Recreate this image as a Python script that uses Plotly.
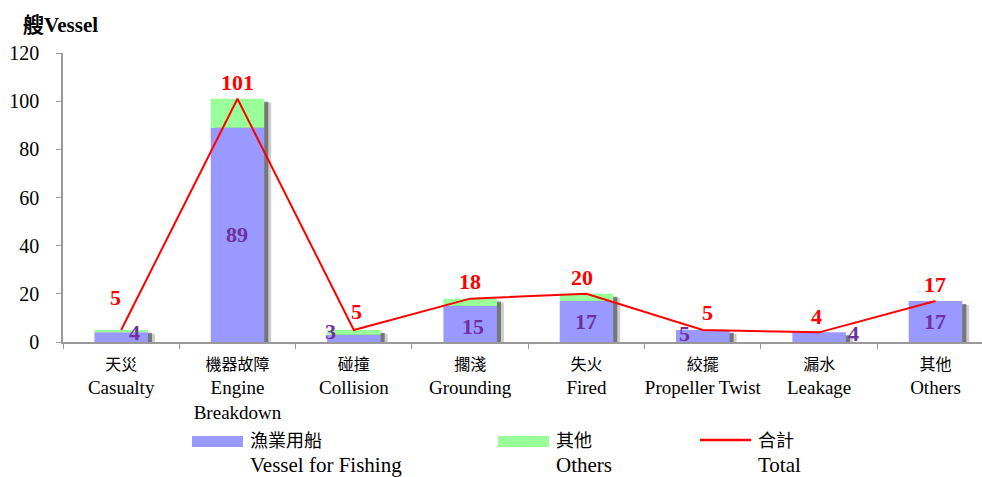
import plotly.graph_objects as go

categories_zh = ["天災", "機器故障", "碰撞", "擱淺", "失火", "絞擺", "漏水", "其他"]
categories_en = ["Casualty", "Engine<br>Breakdown", "Collision", "Grounding", "Fired",
                 "Propeller Twist", "Leakage", "Others"]
fishing = [4, 89, 3, 15, 17, 5, 4, 17]
others = [1, 12, 2, 3, 3, 0, 0, 0]
total = [5, 101, 5, 18, 20, 5, 4, 17]

# label nudges (pixels) - style only
fish_xshift = [13, 0, -23, 3, 0, -18, 34, 0]
fish_yshift = [5, 0, 7, -3, 0, 2, 4, 0]
tot_xshift = [-6, 0, 3, 0, -4, 5, -3, 0]
tot_yshift = [32, 16, 18, 17, 16, 17, 16, 17]

cats = [f"<span style='font-size:16px'>{z}</span><br>{e}" for z, e in zip(categories_zh, categories_en)]

W, H = 982, 477
L, R, T, B = 63, 0, 53, 135
pw, ph = W - L - R, H - T - B

def px(x):
    return (x - L) / pw

def py(y):
    return (H - B - y) / ph

SERIF = "Liberation Serif, Times New Roman, Noto Sans CJK TC"
BW = 0.46

fig = go.Figure()
# soft shadows
fig.add_trace(go.Bar(x=cats, y=[t - 1.6 for t in total], base=0, offset=-BW / 2 + 0.06, width=BW,
                     marker=dict(color="rgba(90,90,90,0.3)", line=dict(width=0)),
                     showlegend=False, hoverinfo="skip"))
fig.add_trace(go.Bar(x=cats, y=[t - 1.2 for t in total], base=0, offset=-BW / 2 + 0.035, width=BW,
                     marker=dict(color="rgba(60,60,60,0.6)", line=dict(width=0)),
                     showlegend=False, hoverinfo="skip"))
fig.add_trace(go.Bar(x=cats, y=fishing, base=0, offset=-BW / 2, width=BW, name="漁業用船",
                     marker=dict(color="#9999FF", line=dict(width=0)), showlegend=False))
fig.add_trace(go.Bar(x=cats, y=others, base=fishing, offset=-BW / 2, width=BW, name="其他",
                     marker=dict(color="#99FF99", line=dict(width=0)), showlegend=False))
fig.add_trace(go.Scatter(x=cats, y=total, mode="lines", name="合計",
                         line=dict(color="#FF0000", width=2), showlegend=False))

ann = []
for c, f, xs, ys in zip(cats, fishing, fish_xshift, fish_yshift):
    ann.append(dict(x=c, y=f / 2, xref="x", yref="y", text=f"<b>{f}</b>", showarrow=False,
                    xshift=xs, yshift=ys, font=dict(family=SERIF, size=22, color="#7030A0")))
for c, t, xs, ys in zip(cats, total, tot_xshift, tot_yshift):
    ann.append(dict(x=c, y=t, xref="x", yref="y", text=f"<b>{t}</b>", showarrow=False,
                    xshift=xs, yshift=ys, font=dict(family=SERIF, size=22, color="#FF0000")))

# y-axis title
ann.append(dict(x=px(21), y=py(25), xref="paper", yref="paper", xanchor="left", yanchor="middle",
                text="<b>艘Vessel</b>", showarrow=False,
                font=dict(family=SERIF, size=21, color="#000000")))

# manual legend
shapes = []
legend_items = [
    ("rect", "#9999FF", 192, "漁業用船", "Vessel for Fishing"),
    ("rect", "#99FF99", 498, "其他", "Others"),
    ("line", "#FF0000", 700, "合計", "Total"),
]
for kind, col, x0, zh, en in legend_items:
    if kind == "rect":
        shapes.append(dict(type="rect", xref="paper", yref="paper", x0=px(x0), x1=px(x0 + 51),
                           y0=py(447), y1=py(436), fillcolor=col, line=dict(width=0)))
    else:
        shapes.append(dict(type="line", xref="paper", yref="paper", x0=px(x0), x1=px(x0 + 51),
                           y0=py(440), y1=py(440), line=dict(color=col, width=2.5)))
    ann.append(dict(x=px(x0 + 56), y=py(441), xref="paper", yref="paper", xanchor="left",
                    yanchor="middle", text=zh, showarrow=False,
                    font=dict(family=SERIF, size=18, color="#000000")))
    ann.append(dict(x=px(x0 + 56), y=py(465), xref="paper", yref="paper", xanchor="left",
                    yanchor="middle", text=en, showarrow=False,
                    font=dict(family=SERIF, size=21, color="#000000")))

fig.update_layout(
    width=W, height=H,
    margin=dict(l=L, r=R, t=T, b=B),
    barmode="overlay",
    plot_bgcolor="white", paper_bgcolor="white",
    annotations=ann, shapes=shapes,
    showlegend=False,
    xaxis=dict(type="category", range=[-0.5, 7.4], showline=True, linecolor="#999999", linewidth=1.5,
               ticks="outside", tickson="boundaries", ticklen=5, tickcolor="#999999", tickangle=0,
               ticklabelstandoff=3,
               tickfont=dict(family=SERIF, size=19, color="#000000"), showgrid=False),
    yaxis=dict(range=[0, 120], dtick=20, showline=True, linecolor="#999999", linewidth=1.5,
               ticks="outside", ticklen=5, tickcolor="#999999", showgrid=False, zeroline=False,
               ticklabelstandoff=13,
               tickfont=dict(family=SERIF, size=20, color="#000000")),
)

fig.write_html("out.html")
